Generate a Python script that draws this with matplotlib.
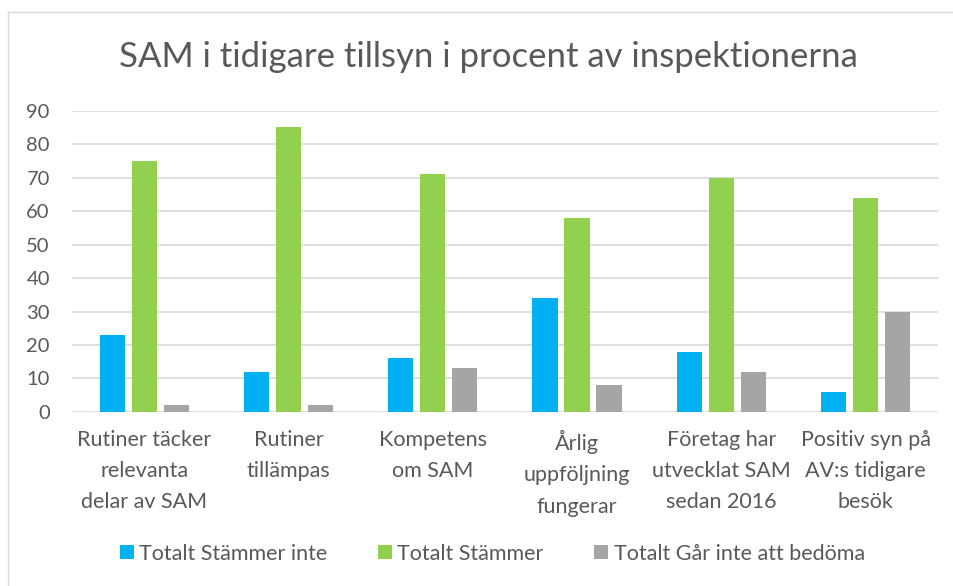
import numpy as np
import matplotlib.pyplot as plt
from matplotlib.lines import Line2D

plt.rcParams['font.family'] = ['Lato', 'DejaVu Sans']

categories = ["Rutiner täcker\nrelevanta\ndelar av SAM", "Rutiner\ntillämpas", "Kompetens\nom SAM",
              "Årlig\nuppföljning\nfungerar", "Företag har\nutvecklat SAM\nsedan 2016", "Positiv syn på\nAV:s tidigare\nbesök"]
stammer_inte = [23, 12, 16, 34, 18, 6]
stammer = [75, 85, 71, 58, 70, 64]
gar_inte = [2, 2, 13, 8, 12, 30]
series_names = ["Totalt Stämmer inte", "Totalt Stämmer", "Totalt Går inte att bedöma"]
colors = ["#00B0F0", "#92D050", "#A5A5A5"]

text_color = "#595959"
fig = plt.figure(figsize=(9.54, 5.86), dpi=100)
ax = fig.add_axes([0.0755, 0.297, 0.9075, 0.514])

x = np.arange(len(categories))
w = 0.175
off = 0.222
for i, (vals, name, c) in enumerate(zip([stammer_inte, stammer, gar_inte], series_names, colors)):
    ax.bar(x + (i - 1) * off, vals, w, color=c, label=name, zorder=3)

ax.set_xlim(-0.5, len(categories) - 0.5)
ax.set_ylim(0, 90)
ax.set_yticks(range(0, 91, 10))
ax.yaxis.grid(True, color="#D9D9D9", linewidth=1.2, zorder=0)
for s in ax.spines.values():
    s.set_visible(False)
ax.tick_params(length=0, colors=text_color)
ax.tick_params(axis='y', pad=16, labelsize=14.5)
ax.set_xticks(x)
ax.set_xticklabels(categories, linespacing=1.7, fontsize=15.5)
ax.tick_params(axis='x', pad=13)

fig.text(0.512, 0.902, "SAM i tidigare tillsyn i procent av inspektionerna",
         ha="center", va="center", fontsize=25, color=text_color)

fig.legend(loc="center", bbox_to_anchor=(0.516, 0.055), ncol=3, frameon=False,
           fontsize=15.5, labelcolor=text_color, handlelength=0.65, handleheight=0.65,
           handletextpad=0.25, columnspacing=2.35)

# outer chart border (only top and left edges visible in the crop)
bx, by = 8 / 954, 1 - 12 / 586
fig.lines.append(Line2D([bx, 1], [by, by], transform=fig.transFigure, color="#D9D9D9", linewidth=1))
fig.lines.append(Line2D([bx, bx], [0, by], transform=fig.transFigure, color="#D9D9D9", linewidth=1))

fig.savefig("out.png", dpi=100)
